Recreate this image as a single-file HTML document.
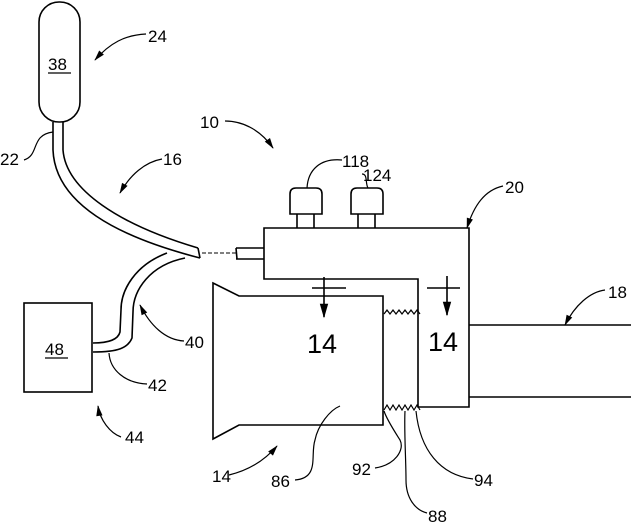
<!DOCTYPE html>
<html><head><meta charset="utf-8"><style>
html,body{margin:0;padding:0;background:#fff;width:631px;height:524px;overflow:hidden}
svg{display:block}
text{font-family:"Liberation Sans",sans-serif;font-size:17px;fill:#000}
</style></head><body>
<svg width="631" height="524" viewBox="0 0 631 524" fill="none" stroke="#000" stroke-width="1.6">
<defs><marker id="a" viewBox="0 0 12 8" refX="11" refY="4" markerWidth="10" markerHeight="6" orient="auto"><path d="M0,0.5 L12,4 L0,7.5 Z" fill="#000" stroke="none"/></marker></defs>
<!-- balloon -->
<rect x="39" y="2" width="41" height="120" rx="20"/>
<text x="48" y="70" stroke="none">38</text><line x1="48" y1="73" x2="71" y2="73" stroke-width="1.2"/>
<!-- tube 16 -->
<path d="M53,122 L53,150 C55,200 110,235 200,258"/>
<path d="M63,122 L63,150 C66,190 120,225 198,248"/>
<path d="M198,248 L200,258"/>
<line x1="202" y1="253" x2="236" y2="253" stroke-dasharray="4,2" stroke-width="1"/>
<path d="M236,248 L264,248 M236,259 L264,259 M236,248 L237,259"/>
<!-- tube 40 -->
<path d="M167,253 C135,265 121,290 121,310 L120,332 C118,340 108,343 93,343"/>
<path d="M185,258 C150,265 133,290 133,312 L132,338 C128,348 118,352 93,352"/>
<!-- box 48 -->
<rect x="24" y="303" width="68" height="89"/>
<text x="45" y="355" stroke="none">48</text><line x1="45" y1="358" x2="68" y2="358" stroke-width="1.2"/>
<!-- housing -->
<path d="M264,228 L469,228 L469,407 L418,407 L418,279 L264,279 Z"/>
<path d="M290,214 L290,194 Q290,188 296,188 L316,188 Q322,188 322,194 L322,214 Z M297,214 L297,228 M314,214 L314,228"/>
<path d="M351,214 L351,194 Q351,188 357,188 L377,188 Q383,188 383,194 L383,214 Z M358,214 L358,228 M375,214 L375,228"/>
<!-- pipe 18 -->
<path d="M469,325 L631,325 M469,397 L631,397"/>
<!-- cup -->
<path d="M213,283 L239,296 L383,296 L383,425 L239,425 L213,439 Z"/>
<!-- zigzags -->
<path d="M384,314 l3,-4 l3,4 l3,-4 l3,4 l3,-4 l3,4 l3,-4 l3,4 l3,-4 l3,4 l3,-4 l3,4" stroke-width="1.2"/>
<path d="M384,410 l3,-5 l3,5 l3,-5 l3,5 l3,-5 l3,5 l3,-5 l3,5 l3,-5 l3,5 l3,-5 l3,5" stroke-width="1.2"/>
<!-- section arrows -->
<path d="M312,288 L346,288"/><line x1="324" y1="277" x2="324" y2="317" marker-end="url(#a)"/>
<path d="M427,288 L460,288"/><line x1="447" y1="276" x2="447" y2="315" marker-end="url(#a)"/>
<g stroke="none"><text x="307" y="353" style="font-size:27px">14</text><text x="428" y="351" style="font-size:27px">14</text></g>
<!-- labels -->
<g stroke="none">
<text x="148" y="42">24</text><text x="200" y="128">10</text><text x="163" y="165">16</text>
<text x="0" y="165">22</text><text x="342" y="167">118</text><text x="363" y="181">124</text>
<text x="505" y="193">20</text><text x="608" y="298">18</text><text x="185" y="348">40</text>
<text x="148" y="391">42</text><text x="125" y="443">44</text><text x="212" y="482">14</text>
<text x="271" y="487">86</text><text x="352" y="475">92</text><text x="428" y="522">88</text>
<text x="474" y="486">94</text>
</g>
<g stroke-width="1.2">
<path d="M146,34 C125,35 110,43 95,60" marker-end="url(#a)"/>
<path d="M225,121 C245,121 262,132 273,148" marker-end="url(#a)"/>
<path d="M162,159 C145,162 130,175 120,193" marker-end="url(#a)"/>
<path d="M24,160 C40,155 30,135 53,132"/>
<path d="M342,160 C320,158 308,170 307,188"/>
<path d="M362,174 C368,174 365,183 368,188"/>
<path d="M503,186 C485,190 474,205 467,228" marker-end="url(#a)"/>
<path d="M605,290 C590,292 575,305 565,325" marker-end="url(#a)"/>
<path d="M184,341 C165,340 150,325 140,305" marker-end="url(#a)"/>
<path d="M147,384 C125,383 110,370 109,353"/>
<path d="M121,437 C110,433 100,420 98,406" marker-end="url(#a)"/>
<path d="M229,475 C250,470 265,460 277,446" marker-end="url(#a)"/>
<path d="M295,480 C320,478 310,455 315,440 C318,425 330,410 340,406"/>
<path d="M375,468 C395,465 405,450 400,440 C395,432 387,420 384,411"/>
<path d="M427,513 C415,510 406,498 406,480 C406,460 404,430 405,411"/>
<path d="M473,479 C440,475 420,450 416,411"/>
</g>
</svg>
</body></html>
